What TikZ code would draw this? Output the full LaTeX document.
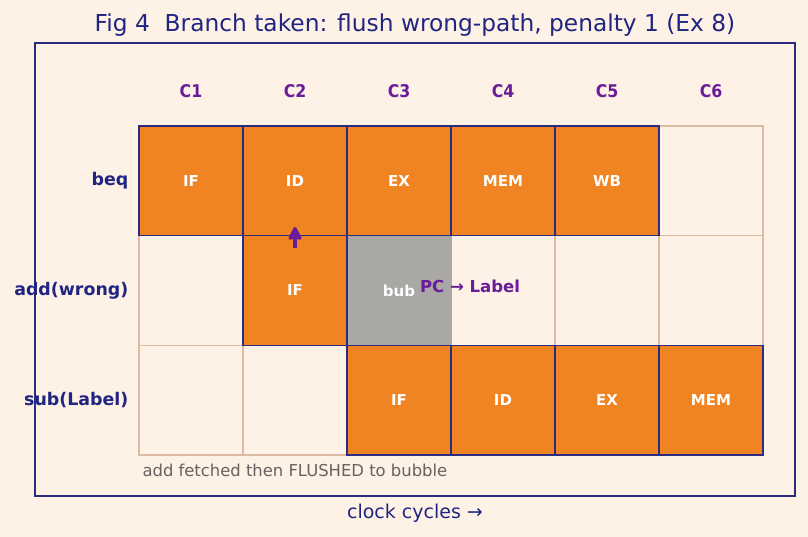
\documentclass[tikz,border=0pt]{standalone}
\usepackage{fontspec}
\setmainfont{DejaVu Sans}
\newfontfamily\dvcond{DejaVu Sans Condensed}
\usetikzlibrary{arrows.meta}
\definecolor{bgc}{HTML}{FEF1E6}
\definecolor{orng}{HTML}{F08322}
\definecolor{bubg}{HTML}{A9A8A5}
\definecolor{tanb}{HTML}{DDBBA2}
\definecolor{navy}{HTML}{2B2B80}
\definecolor{titl}{HTML}{1F2580}
\definecolor{purp}{HTML}{6A1B9A}
\definecolor{notec}{HTML}{676260}
\tikzset{
  cellbase/.style={minimum width=104pt, minimum height=109.67pt, inner sep=0pt, outer sep=0pt, anchor=north west,
     font=\fontsize{15}{18}\selectfont\bfseries, text=white},
  emptycell/.style={cellbase, draw=tanb, line width=1.3pt},
  stagecell/.style={cellbase, fill=orng, draw=navy, line width=1.3pt},
  bubcell/.style={cellbase, fill=bubg, draw=bubg, line width=1.2pt},
  collab/.style={font=\dvcond\fontsize{17.5}{20}\selectfont\bfseries, text=purp},
  rowlab/.style={font=\fontsize{17.4}{20}\selectfont\bfseries, text=titl, anchor=east, inner sep=0pt},
}
\begin{document}
\begin{tikzpicture}[x=1pt,y=-1pt]
\fill[bgc] (0,0) rectangle (808,537);
\useasboundingbox (0,0) rectangle (808,537);
% title
\node[font=\fontsize{23.3}{27}\selectfont, text=titl] (title) at (415,25) {Fig 4\ \ Branch taken: flush wrong-path, penalty 1 (Ex 8)};
% frame
\draw[navy, line width=1.5pt] (35,43) rectangle (795,496);
% column labels
\foreach \i/\x in {1/191,2/295,3/399,4/503,5/607,6/711}
  \node[collab] (c\i) at (\x,91) {C\i};
% row labels
\node[rowlab] (rbeq) at (128.5,181) {beq};
\node[rowlab] (radd) at (128.5,290.5) {add(wrong)};
\node[rowlab] (rsub) at (128.5,400) {sub(Label)};
% empty cells
\node[emptycell] (e16) at (659,126) {};
\node[emptycell] (e21) at (139,235.67) {};
\node[emptycell] (e24) at (451,235.67) {};
\node[emptycell] (e25) at (555,235.67) {};
\node[emptycell] (e26) at (659,235.67) {};
\node[emptycell] (e31) at (139,345.33) {};
\node[emptycell] (e32) at (243,345.33) {};
% bubble
\node[bubcell] (b23) at (347,235.67) {};
\node[font=\fontsize{15}{18}\selectfont\bfseries, text=white] (bubtxt) at (399,290.5) {bub};
% beq row
\node[stagecell] (s11) at (139,126) {IF};
\node[stagecell] (s12) at (243,126) {ID};
\node[stagecell] (s13) at (347,126) {EX};
\node[stagecell] (s14) at (451,126) {MEM};
\node[stagecell] (s15) at (555,126) {WB};
% add row
\node[stagecell] (s22) at (243,235.67) {IF};
% sub row
\node[stagecell] (s33) at (347,345.33) {IF};
\node[stagecell] (s34) at (451,345.33) {ID};
\node[stagecell] (s35) at (555,345.33) {EX};
\node[stagecell] (s36) at (659,345.33) {MEM};
% arrow
\coordinate (atail) at (295,248);
\coordinate (ahead) at (295,227);
\draw[purp, line width=3.5pt, -{Stealth[length=16pt,width=16pt,inset=3pt,round]}] (atail) -- (ahead);
% PC label
\node[font=\fontsize{16.5}{19}\selectfont\bfseries, text=purp] (pclab) at (470,286) {PC → Label};
% note
\node[font=\fontsize{16.4}{19}\selectfont, text=notec, anchor=west] (note) at (139,470.5) {add fetched then FLUSHED to bubble};
% axis label
\node[font=\fontsize{19}{22}\selectfont, text=titl] (xlab) at (415,513) {clock cycles →};
\end{tikzpicture}
\end{document}
